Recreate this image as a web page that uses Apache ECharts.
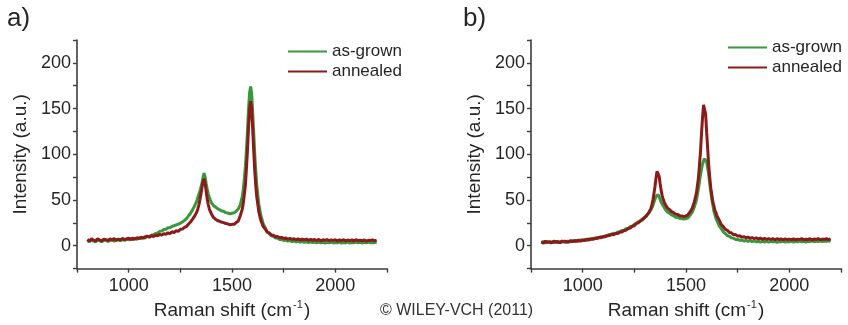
<!DOCTYPE html>
<html>
<head>
<meta charset="utf-8">
<script src="https://cdn.jsdelivr.net/npm/echarts@6/dist/echarts.min.js"></script>
<style>html,body{margin:0;padding:0;background:#fff;}#c{width:848px;height:325px;}</style>
</head>
<body>
<div id="c"></div>
<script>
// Raman shift sampling (cm^-1)
const ramanShift = [
800,810,820,830,840,850,860,870,880,890,900,910,920,930,940,950,960,970,980,990,
1000,1010,1020,1030,1040,1050,1060,1070,1080,1090,1100,1110,1120,1130,1140,1150,1160,1170,1180,1190,
1200,1210,1220,1230,1240,1250,1260,1270,1280,1290,1300,1310,1320,1330,
1335,1340,1345,1350,1355,1360,1365,1370,1375,1380,1385,1390,1395,
1400,1410,1420,1430,1440,1450,1460,1470,1480,1490,1500,1510,1520,1530,1540,1550,
1555,1560,1565,1570,1575,1580,1585,1590,1595,1600,1605,1610,1615,1620,1625,1630,1635,1640,1645,
1650,1660,1670,1680,1690,1700,1710,1720,1730,1740,1750,1760,1770,1780,1790,1800,1810,1820,1830,1840,
1850,1860,1870,1880,1890,1900,1910,1920,1930,1940,1950,1960,1970,1980,1990,2000,2010,2020,2030,2040,
2050,2060,2070,2080,2090,2100,2110,2120,2130,2140,2150,2160,2170,2180,2190,2200
];

// Panel a) as-grown
const aAsGrown = [
5.5,4.6,6.4,5.1,4.4,6.2,5.3,4.3,5.9,6.2,
4.7,5.7,6.5,5.0,6.0,6.6,5.3,6.9,5.8,7.2,
6.3,7.5,6.7,8.0,7.0,8.6,7.8,9.3,8.5,10.1,
10.3,11.5,12.2,13.2,13.9,15.8,16.0,17.8,17.9,19.7,
19.8,21.1,21.9,22.9,23.7,24.8,26.0,27.7,29.6,32.8,
35.8,39.5,44.0,49.0,
53.0,56.5,60.0,64.0,69.0,75.0,79.5,75.0,68.0,62.0,57.0,53.0,50.0,
47.2,44.0,42.3,40.6,39.4,38.0,37.7,36.2,35.8,34.9,35.5,36.0,37.6,40.1,44.6,54.0,
62.5,74.1,87.0,105.7,126.1,149.5,167.0,174.2,166.8,146.4,123.9,100.2,82.3,66.1,55.5,45.4,39.1,32.6,29.0,
24.4,19.9,15.5,13.7,10.9,10.4,8.5,8.4,6.9,7.1,
5.8,6.2,5.1,5.6,4.6,5.2,4.3,4.9,3.9,4.6,
3.8,4.4,3.5,4.3,3.4,4.0,3.1,4.1,3.2,3.8,
2.9,3.7,3.3,4.1,3.0,3.6,3.2,4.0,2.9,3.5,
3.1,3.9,3.0,3.6,3.3,4.0,3.1,3.7,3.0,3.8,
3.2,3.9,3.1,3.6,3.4,3.8
];

// Panel a) annealed
const aAnnealed = [
6.8,5.0,7.6,6.1,5.3,7.4,6.3,5.2,7.2,6.6,
5.6,7.5,6.4,7.8,6.0,7.3,6.5,8.0,6.7,7.6,
8.3,6.8,8.5,7.3,8.8,7.8,9.4,8.2,9.8,10.5,
9.3,11.0,10.0,11.7,10.8,12.5,11.6,13.3,12.4,14.2,
13.2,15.3,14.4,16.5,15.7,18.0,18.2,20.1,21.1,23.8,
26.2,29.3,32.7,37.0,
40.5,45.0,50.5,57.0,64.0,70.5,73.2,68.0,59.5,51.0,45.0,40.5,37.5,
35.0,31.0,29.1,27.6,26.7,25.7,25.3,24.2,23.9,22.9,23.4,23.4,25.4,26.9,32.8,40.3,
47.2,56.9,67.0,85.1,104.8,129.5,149.4,158.2,149.9,127.5,104.3,82.1,65.6,53.1,45.0,36.7,32.2,27.2,24.8,
21.3,18.5,14.9,13.9,11.8,11.5,9.8,10.1,8.7,9.1,
7.9,8.5,7.3,8.1,7.0,7.6,6.6,7.4,6.3,7.1,
6.4,7.2,5.9,6.9,6.0,6.8,5.7,6.9,5.4,6.6,
5.9,6.7,5.5,6.4,5.8,6.5,5.3,6.3,5.7,6.6,
5.2,6.2,5.6,6.4,5.1,6.7,5.5,6.1,5.4,6.3,
5.0,6.0,5.7,6.5,5.3,6.1
];

// Panel b) as-grown
const bAsGrown = [
3.5,4.6,2.8,4.8,3.1,4.3,3.3,4.9,3.4,4.5,
3.7,5.2,3.6,5.1,4.1,5.7,4.4,5.9,4.9,6.4,
5.5,6.8,6.0,7.6,6.7,8.2,7.5,9.1,8.4,10.0,
9.4,11.1,10.6,12.3,11.8,13.6,13.3,15.1,15.0,16.8,
16.9,18.7,19.1,21.0,21.5,23.4,24.4,26.2,27.3,29.6,
31.0,33.7,35.8,39.3,
41.2,44.0,47.5,51.0,54.0,56.0,56.0,53.5,50.5,47.5,45.3,43.4,41.8,
39.6,37.0,35.7,33.7,32.8,31.2,30.9,29.9,29.8,29.1,29.7,30.6,33.4,36.4,42.2,49.3,
55.8,62.4,69.5,77.3,83.6,89.4,92.7,95.2,94.1,91.3,84.6,77.4,67.5,59.3,50.6,44.3,37.6,33.8,29.7,
27.2,22.1,18.9,15.2,13.4,11.1,10.4,8.6,8.3,6.9,
7.1,5.9,6.3,5.2,5.8,4.9,5.6,4.5,5.3,4.2,
5.1,4.0,5.0,4.1,4.8,3.9,4.9,4.2,4.7,3.8,
4.6,4.3,5.0,3.9,4.7,4.4,5.1,4.0,4.8,4.2,
5.2,4.3,4.9,4.1,5.0,4.5,5.3,4.4,5.1,4.6,
5.4,4.5,5.2,4.7,5.5,4.9
];

// Panel b) annealed
const bAnnealed = [
4.2,2.9,5.0,3.6,4.6,3.0,5.1,3.8,4.7,3.2,
5.2,4.1,4.9,3.7,5.5,4.4,5.8,4.6,6.2,5.0,
6.5,5.6,7.1,6.2,7.7,6.9,8.4,7.8,9.3,8.7,
10.2,9.9,11.4,11.2,12.8,12.0,13.4,13.4,14.9,15.1,
16.6,17.0,18.8,19.4,21.2,21.9,24.5,25.2,27.2,28.4,
30.7,32.8,36.4,40.5,
45.0,50.0,57.0,65.0,74.0,81.5,82.5,76.0,67.5,60.0,54.5,50.5,47.5,
45.0,41.4,39.5,37.3,36.2,34.6,34.1,32.9,32.6,31.8,32.5,34.0,37.2,40.9,47.6,57.2,
65.3,74.0,87.6,102.5,122.3,140.1,154.0,154.3,143.7,124.2,105.6,87.5,74.7,62.9,55.5,47.9,43.7,38.5,36.1,
32.3,28.3,23.4,21.1,17.9,16.9,14.4,14.1,12.0,12.2,
10.5,10.9,9.4,9.9,8.7,9.4,8.2,8.9,7.8,8.6,
7.4,8.3,7.1,8.0,6.9,7.9,6.8,7.7,6.5,7.6,
6.9,7.4,6.4,7.5,6.6,7.3,6.5,7.6,6.3,7.2,
6.7,7.8,6.4,7.1,6.6,7.7,6.2,7.4,6.8,7.9,
6.5,7.3,6.9,7.8,6.6,7.5
];

const xTickLabels = [1000, 1500, 2000];
const yTickLabels = [0, 50, 100, 150, 200];
const seriesNames = ['as-grown', 'annealed'];
const panelLabels = ['a)', 'b)'];

const FONT = '"Liberation Sans", Arial, Helvetica, sans-serif';
const TXT = '#262626';
const AX = '#3c3c3c';
const GREEN = '#37983c';
const RED = '#8c1a1a';

function pairs(vals) { return ramanShift.map((x, i) => [x, vals[i]]); }

function mkX(i) {
  return {
    type: 'value', gridIndex: i, min: 750, max: 2250, interval: 250,
    axisLine: { show: true, onZero: false, lineStyle: { color: AX, width: 1.6 } },
    axisTick: { show: true, inside: false, length: 4, lineStyle: { color: AX, width: 1.4 } },
    splitLine: { show: false },
    axisLabel: {
      color: TXT, fontSize: 18, fontFamily: FONT, margin: 8,
      formatter: v => (xTickLabels.indexOf(v) >= 0 ? String(v) : '')
    },
    name: '{n|Raman shift (cm}{s|-1}{n|)}',
    nameLocation: 'middle', nameGap: 26,
    nameTextStyle: {
      color: TXT, fontFamily: FONT,
      rich: {
        n: { fontSize: 19, color: TXT, fontFamily: FONT, lineHeight: 22 },
        s: { fontSize: 11, color: TXT, fontFamily: FONT, verticalAlign: 'top', lineHeight: 12, padding: [0, 1, 0, 1] }
      }
    }
  };
}
function mkY(i) {
  return {
    type: 'value', gridIndex: i, min: -25, max: 225, interval: 25,
    axisLine: { show: true, onZero: false, lineStyle: { color: AX, width: 1.6 } },
    axisTick: { show: true, inside: false, length: 4, lineStyle: { color: AX, width: 1.4 } },
    splitLine: { show: false },
    axisLabel: {
      color: TXT, fontSize: 18, fontFamily: FONT, margin: 6,
      formatter: v => (yTickLabels.indexOf(v) >= 0 ? String(v) : '')
    },
    name: 'Intensity (a.u.)', nameLocation: 'middle', nameGap: 47, nameRotate: 90,
    nameTextStyle: { color: TXT, fontSize: 19, fontFamily: FONT }
  };
}
function mkLegend(left, top) {
  return {
    orient: 'vertical', left: left, top: top, padding: 0,
    icon: 'rect', itemWidth: 39, itemHeight: 2, itemGap: 3,
    data: seriesNames,
    textStyle: { fontSize: 17, color: TXT, fontFamily: FONT, lineHeight: 14 }
  };
}
function mkSeries(name, vals, idx, color) {
  return {
    name: name, type: 'line', xAxisIndex: idx, yAxisIndex: idx,
    data: pairs(vals), symbol: 'none', showSymbol: false, smooth: false,
    lineStyle: { color: color, width: 3 }, itemStyle: { color: color },
    emphasis: { disabled: true }
  };
}

const chart = echarts.init(document.getElementById('c'), null, { renderer: 'canvas' });
chart.setOption({
  animation: false,
  backgroundColor: '#ffffff',
  textStyle: { fontFamily: FONT },
  title: [
    { text: panelLabels[0], left: 7, top: 6, padding: 0, textStyle: { fontSize: 26, fontWeight: 'normal', color: TXT, fontFamily: FONT } },
    { text: panelLabels[1], left: 463, top: 6, padding: 0, textStyle: { fontSize: 26, fontWeight: 'normal', color: TXT, fontFamily: FONT } },
    { text: '© WILEY-VCH (2011)', left: 380, top: 303, padding: 0, textStyle: { fontSize: 16, fontWeight: 'normal', color: '#333', fontFamily: FONT } }
  ],
  legend: [mkLegend(288, 43), mkLegend(728, 39)],
  grid: [
    { left: 77, top: 40, width: 310, height: 231 },
    { left: 531, top: 40, width: 310, height: 231 }
  ],
  xAxis: [mkX(0), mkX(1)],
  yAxis: [mkY(0), mkY(1)],
  series: [
    mkSeries(seriesNames[0], aAsGrown, 0, GREEN),
    mkSeries(seriesNames[1], aAnnealed, 0, RED),
    mkSeries(seriesNames[0], bAsGrown, 1, GREEN),
    mkSeries(seriesNames[1], bAnnealed, 1, RED)
  ]
});
</script>
</body>
</html>
